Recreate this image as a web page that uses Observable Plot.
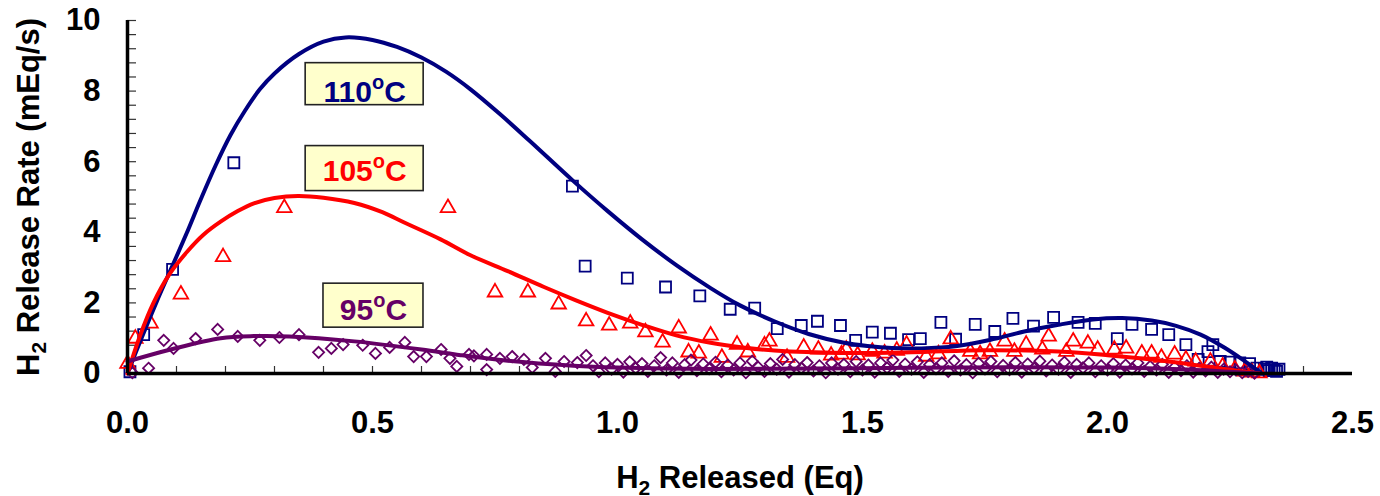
<!DOCTYPE html>
<html>
<head>
<meta charset="utf-8">
<script src="https://cdn.jsdelivr.net/npm/d3@7"></script>
<script src="https://cdn.jsdelivr.net/npm/@observablehq/plot@0.6"></script>
<style>
  html, body { margin: 0; padding: 0; background: #ffffff; }
  #chart { width: 1380px; height: 496px; }
</style>
</head>
<body>
<div id="chart"></div>
<script>
// ---------- Axis ticks ----------
const xMajor = [0, 0.5, 1.0, 1.5, 2.0, 2.5];
const yMajor = [0, 2, 4, 6, 8, 10];
const xMinor = [0.1,0.2,0.3,0.4,0.5,0.6,0.7,0.8,0.9,1.0,1.1,1.2,1.3,1.4,1.5,1.6,1.7,1.8,1.9,2.0,2.1,2.2,2.3,2.4];
const yMinor = [0.4,0.8,1.2,1.6,2.0,2.4,2.8,3.2,3.6,4.0,4.4,4.8,5.2,5.6,6.0,6.4,6.8,7.2,7.6,8.0,8.4,8.8,9.2,9.6,10.0];

// ---------- 110 °C measured (squares) ----------
const sq110X = [0.005,0.033,0.092,0.217,0.908,0.934,1.02,1.098,1.168,1.23,1.28,1.326,1.375,1.408,1.455,1.486,1.52,1.557,1.594,1.618,1.66,1.69,1.73,1.77,1.807,1.849,1.89,1.94,1.975,2.02,2.05,2.09,2.125,2.16,2.185,2.205,2.215,2.23,2.25,2.27,2.29,2.305,2.32,2.325,2.33,2.335,2.34,2.345,2.35];
const sq110Y = [0.05,1.1,2.95,5.97,5.31,3.04,2.7,2.45,2.2,1.82,1.85,1.27,1.36,1.48,1.36,0.94,1.17,1.14,0.96,0.99,1.45,0.97,1.39,1.19,1.56,1.34,1.59,1.45,1.42,0.99,1.39,1.25,1.1,0.82,0.4,0.62,0.82,0.34,0.32,0.3,0.28,0.15,0.12,0.18,0.08,0.15,0.1,0.06,0.12];

// ---------- 105 °C measured (triangles) ----------
const tri105X = [0.0,0.016,0.047,0.109,0.195,0.32,0.654,0.75,0.817,0.88,0.936,0.983,1.026,1.057,1.092,1.125,1.145,1.166,1.19,1.213,1.244,1.266,1.3,1.31,1.346,1.38,1.41,1.436,1.457,1.467,1.49,1.52,1.545,1.57,1.59,1.63,1.655,1.68,1.72,1.74,1.76,1.79,1.81,1.834,1.867,1.88,1.916,1.93,1.96,1.98,2.014,2.038,2.07,2.09,2.11,2.137,2.16,2.18,2.21,2.235,2.26,2.28,2.295,2.31];
const tri105Y = [0.28,0.99,1.42,2.24,3.3,4.69,4.69,2.3,2.3,1.96,1.48,1.36,1.42,1.17,0.88,1.28,0.6,0.57,1.08,0.45,0.82,0.6,0.8,0.91,0.45,0.74,0.68,0.51,0.54,0.68,0.52,0.62,0.57,0.65,0.82,0.48,0.55,0.97,0.62,0.55,0.62,0.91,0.62,0.82,0.68,1.05,0.62,0.91,0.85,0.68,0.68,0.71,0.57,0.57,0.45,0.54,0.4,0.34,0.34,0.2,0.12,0.06,0.03,0.01];

// ---------- 95 °C measured (diamonds) ----------
const dia95X = [0.01,0.043,0.074,0.094,0.139,0.184,0.225,0.27,0.31,0.35,0.39,0.416,0.44,0.48,0.506,0.535,0.566,0.584,0.61,0.64,0.658,0.672,0.697,0.707,0.733,0.733,0.76,0.785,0.809,0.826,0.853,0.873,0.891,0.918,0.936,
  0.95,0.962,0.975,0.988,1.0,1.012,1.025,1.037,1.05,1.062,1.075,1.088,1.1,1.112,1.125,1.137,1.15,1.162,1.175,1.187,1.2,1.212,1.225,1.237,1.25,1.262,1.275,1.287,1.3,1.312,1.325,1.337,1.35,1.362,1.375,1.387,1.4,1.412,1.425,1.437,1.45,1.462,1.475,1.487,1.5,1.512,1.525,1.537,1.55,1.562,1.575,1.587,1.6,1.612,1.625,1.637,1.65,1.662,1.675,1.687,1.7,1.712,1.725,1.737,1.75,1.762,1.775,1.787,1.8,1.812,1.825,1.837,1.85,1.862,1.875,1.887,1.9,1.912,1.925,1.937,1.95,1.962,1.975,1.987,2.0,2.012,2.025,2.037,2.05,2.062,2.075,2.087,2.1,2.112,2.125,2.137,2.15,2.162,2.175,2.187,2.2,2.212,2.225,2.237,2.25,2.262,2.275,2.287,2.3];
const dia95Y = [0.02,0.15,0.94,0.71,0.99,1.25,1.05,0.94,1.02,1.1,0.6,0.71,0.82,0.8,0.57,0.74,0.88,0.48,0.48,0.68,0.43,0.2,0.54,0.5,0.54,0.11,0.43,0.48,0.4,0.17,0.43,0.06,0.34,0.31,0.51,
  0.22,0.05,0.3,0.12,0.26,0.04,0.33,0.15,0.28,0.06,0.22,0.45,0.1,0.3,0.03,0.25,0.38,0.08,0.27,0.14,0.32,0.05,0.24,0.1,0.3,0.02,0.35,0.18,0.06,0.28,0.12,0.4,0.04,0.25,0.15,0.31,0.07,0.22,0.02,0.3,0.12,0.26,0.05,0.34,0.1,0.24,0.04,0.3,0.16,0.38,0.06,0.27,0.12,0.33,0.03,0.25,0.14,0.3,0.06,0.36,0.1,0.25,0.02,0.29,0.13,0.34,0.05,0.23,0.11,0.31,0.04,0.27,0.15,0.35,0.07,0.24,0.12,0.32,0.03,0.26,0.16,0.3,0.05,0.22,0.1,0.28,0.04,0.24,0.13,0.3,0.06,0.2,0.1,0.26,0.03,0.18,0.08,0.22,0.04,0.15,0.07,0.18,0.03,0.12,0.05,0.1,0.02,0.06,0.01];

// ---------- Fitted curves ----------
const fit110X = [0,0.03,0.06,0.09,0.12,0.15,0.18,0.21,0.24,0.27,0.3,0.35,0.4,0.445,0.5,0.55,0.6,0.65,0.7,0.76,0.82,0.91,0.98,1.05,1.12,1.19,1.25,1.32,1.39,1.46,1.51,1.56,1.62,1.69,1.76,1.83,1.9,1.97,2.03,2.09,2.14,2.19,2.24,2.28,2.31];
const fit110Y = [0,1.05,2.05,3.0,3.95,4.95,5.9,6.75,7.45,8.05,8.5,9.05,9.4,9.52,9.45,9.25,8.95,8.55,8.05,7.35,6.6,5.45,4.6,3.8,3.07,2.42,1.93,1.48,1.12,0.88,0.78,0.72,0.71,0.77,0.95,1.19,1.38,1.53,1.57,1.5,1.35,1.1,0.72,0.35,0.05];

const fit105X = [0,0.025,0.053,0.085,0.123,0.155,0.19,0.225,0.258,0.3,0.348,0.4,0.463,0.52,0.566,0.639,0.7,0.776,0.85,0.914,0.98,1.05,1.12,1.19,1.26,1.32,1.46,1.6,1.75,1.9,2.0,2.1,2.2,2.31];
const fit105Y = [0,1.05,2.0,2.8,3.47,3.93,4.3,4.6,4.82,4.97,5.03,4.98,4.83,4.57,4.27,3.8,3.35,2.9,2.45,2.08,1.72,1.38,1.08,0.87,0.73,0.65,0.58,0.6,0.66,0.62,0.52,0.38,0.2,0.0];

const fit95X = [0,0.088,0.19,0.258,0.33,0.463,0.6,0.68,0.776,0.91,1.0,1.2,1.5,1.8,2.0,2.15,2.31];
const fit95Y = [0.34,0.68,1.0,1.06,1.05,0.91,0.68,0.52,0.36,0.22,0.17,0.13,0.15,0.18,0.17,0.12,0.0];

// ---------- Annotation labels ----------
const labelText  = ["110°C", "105°C", "95°C"];
const labelX     = [0.484, 0.484, 0.502];
const labelY     = [7.97, 5.72, 1.78];
const labelColor = ["#000080", "#ff0000", "#660066"];

// ---------- Build tables ----------
const zip = (xs, ys) => xs.map((x, i) => ({x, y: ys[i]}));
const sq110 = zip(sq110X, sq110Y);
const tri105 = zip(tri105X, tri105Y);
const dia95 = zip(dia95X, dia95Y);
const fit110 = zip(fit110X, fit110Y);
const fit105 = zip(fit105X, fit105Y);
const fit95 = zip(fit95X, fit95Y);
const labels = labelText.map((t, i) => ({t, x: labelX[i], y: labelY[i], c: labelColor[i]}));

const W = 1380, H = 496;
const mT = 20, mB = 123, mL = 127, mR = 28;
const plotW = W - mL - mR, plotH = H - mT - mB;

// box sizes (px) and vertical offset of box relative to text centre
const boxStyle = [
  {w: 118, h: 42, dy: -8},
  {w: 118, h: 45, dy: -3},
  {w: 100, h: 44, dy: -5}
];

const labelMarks = labels.flatMap((l, i) => [
  Plot.rect([l], {
    x1: "x", x2: "x", y1: "y", y2: "y",
    insetLeft: -boxStyle[i].w / 2, insetRight: -boxStyle[i].w / 2,
    insetTop: -boxStyle[i].h / 2, insetBottom: -boxStyle[i].h / 2,
    dy: boxStyle[i].dy,
    fill: "#ffffcc", stroke: "#222", strokeWidth: 1.6
  }),
  Plot.text([l], {
    x: "x", y: "y", text: "t", fill: l.c,
    fontSize: 30, fontWeight: "bold", textAnchor: "middle"
  })
]);

const plot = Plot.plot({
  width: W, height: H,
  marginTop: mT, marginBottom: mB, marginLeft: mL, marginRight: mR,
  style: {fontFamily: "'Liberation Sans', Arial, Helvetica, sans-serif", background: "#ffffff", color: "#000", overflow: "visible"},
  x: {domain: [0, 2.5]},
  y: {domain: [0, 10]},
  marks: [
    // minor ticks pointing inward
    Plot.tickX(xMinor, {x: d => d, stroke: "#333", strokeWidth: 1.2, insetTop: plotH - 7}),
    Plot.tickY(yMinor, {y: d => d, stroke: "#333", strokeWidth: 1.2, insetRight: plotW - 9}),
    Plot.axisX({
      ticks: xMajor, tickFormat: d => d.toFixed(1), tickSize: 0, tickPadding: 37,
      fontSize: 31, fontWeight: "bold",
      label: "H2 Released (Eq)", labelAnchor: "center", labelOffset: 114
    }),
    Plot.axisY({
      ticks: yMajor, tickFormat: d => String(d), tickSize: 0, tickPadding: 27,
      fontSize: 31, fontWeight: "bold",
      label: "H2 Release Rate (mEq/s)", labelAnchor: "center", labelOffset: 111
    }),
    // measured points
    Plot.dot(sq110, {x: "x", y: "y", symbol: "square", r: 6.2, stroke: "#000080", strokeWidth: 1.8, fill: "none"}),
    Plot.dot(tri105, {x: "x", y: "y", symbol: "triangle", r: 5.4, stroke: "#ff0000", strokeWidth: 1.8, fill: "none"}),
    Plot.dot(dia95, {x: "x", y: "y", symbol: "diamond2", r: 5, stroke: "#660066", strokeWidth: 1.8, fill: "none"}),
    // fitted curves
    Plot.line(fit110, {x: "x", y: "y", curve: "catmull-rom", stroke: "#000080", strokeWidth: 4}),
    Plot.line(fit105, {x: "x", y: "y", curve: "catmull-rom", stroke: "#ff0000", strokeWidth: 4}),
    Plot.line(fit95, {x: "x", y: "y", curve: "catmull-rom", stroke: "#660066", strokeWidth: 4}),
    // axis lines
    Plot.ruleY([0], {stroke: "#000", strokeWidth: 3.5}),
    Plot.ruleX([0], {stroke: "#000", strokeWidth: 3.5}),
    ...labelMarks
  ]
});

// Remove automatic label arrows, add subscripts / superscripts on real text
const NS = "http://www.w3.org/2000/svg";
plot.querySelectorAll("text").forEach(t => {
  const raw = t.textContent;
  const s = raw.replace(/\s*[\u2191\u2193\u2190\u2192]\s*/g, "").trim();
  if (s.startsWith("H2 ")) {
    t.textContent = "H";
    const sub = document.createElementNS(NS, "tspan");
    sub.setAttribute("font-size", "21");
    sub.setAttribute("dy", "7");
    sub.textContent = "2";
    const rest = document.createElementNS(NS, "tspan");
    rest.setAttribute("dy", "-7");
    rest.textContent = s.slice(2);
    t.appendChild(sub); t.appendChild(rest);
  } else if (s.includes("°")) {
    const [a, b] = s.split("°");
    t.textContent = a;
    const sup = document.createElementNS(NS, "tspan");
    sup.setAttribute("font-size", "20");
    sup.setAttribute("dy", "-13");
    sup.textContent = "o";
    const rest = document.createElementNS(NS, "tspan");
    rest.setAttribute("dy", "13");
    rest.textContent = b;
    t.appendChild(sup); t.appendChild(rest);
  }
});

document.getElementById("chart").appendChild(plot);
</script>
</body>
</html>
